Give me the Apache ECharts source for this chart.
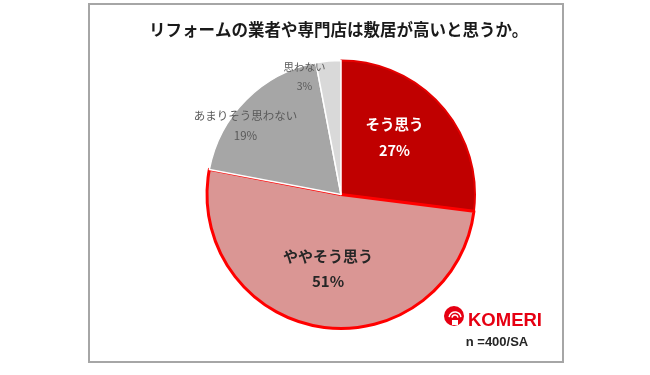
<!DOCTYPE html>
<html>
<head>
<meta charset="utf-8">
<script src="https://cdn.jsdelivr.net/npm/echarts@6/dist/echarts.min.js"></script>
<style>
html,body{margin:0;padding:0;background:#fff;}
#chart{width:650px;height:375px;}
</style>
</head>
<body>
<div id="chart"></div>
<script>
const titleText = 'リフォームの業者や専門店は敷居が高いと思うか。';
const categories = ['そう思う', 'ややそう思う', 'あまりそう思わない', '思わない'];
const values = [27, 51, 19, 3];
const noteText = 'n =400/SA';
const brandText = 'KOMERI';

const FONT = '"Noto Sans CJK JP", "Noto Sans", sans-serif';
const fills = ['#C00000', '#DA9694', '#A6A6A6', '#D9D9D9'];
const borders = ['#E60000', '#FF0000', '#FFFFFF', '#FFFFFF'];
const borderWidths = [2, 3, 1.5, 1.5];
const labelStyles = [
  {color: '#FFFFFF', fontSize: 14.5, fontWeight: 'bold', lineHeight: 26, offset: [1, -11]},
  {color: '#262626', fontSize: 15, fontWeight: 'bold', lineHeight: 25, offset: [-2, 5]},
  {color: '#595959', fontSize: 11.5, fontWeight: 'normal', lineHeight: 20, offset: [-46, -19]},
  {color: '#595959', fontSize: 10.5, fontWeight: 'normal', lineHeight: 19, offset: [-30, -48]}
];

const pieData = categories.map((name, i) => ({
  name: name,
  value: values[i],
  itemStyle: {color: fills[i], borderColor: borders[i], borderWidth: borderWidths[i]},
  label: {
    color: labelStyles[i].color,
    fontSize: labelStyles[i].fontSize,
    fontWeight: labelStyles[i].fontWeight,
    lineHeight: labelStyles[i].lineHeight,
    offset: labelStyles[i].offset
  }
}));

const chart = echarts.init(document.getElementById('chart'), null, {renderer: 'canvas'});
chart.setOption({
  animation: false,
  backgroundColor: '#FFFFFF',
  title: {
    text: titleText,
    left: 144,
    top: 16,
    textStyle: {fontFamily: FONT, fontSize: 16.5, fontWeight: 'bold', color: '#1A1A1A'}
  },
  graphic: [
    {type: 'rect', shape: {x: 89, y: 4, width: 474, height: 358}, style: {fill: 'none', stroke: '#A6A6A6', lineWidth: 2}, z: 0},
    // logo mark
    {type: 'circle', shape: {cx: 454, cy: 316, r: 10}, style: {fill: '#E60012'}, z: 10},
    {type: 'arc', shape: {cx: 455, cy: 318, r: 6, startAngle: Math.PI * 1.05, endAngle: Math.PI * 1.95}, style: {stroke: '#FFFFFF', lineWidth: 1.5, fill: 'none'}, z: 11},
    {type: 'arc', shape: {cx: 455, cy: 318, r: 3, startAngle: Math.PI * 1.05, endAngle: Math.PI * 1.95}, style: {stroke: '#FFFFFF', lineWidth: 1.5, fill: 'none'}, z: 11},
    {type: 'rect', shape: {x: 452, y: 320, width: 6, height: 5}, style: {fill: '#FFFFFF'}, z: 11},
    {type: 'text', x: 468, y: 321, style: {text: brandText, fill: '#E60012', font: 'bold 18.5px "Liberation Sans", Arial, sans-serif', textVerticalAlign: 'middle', textAlign: 'left'}, z: 10},
    {type: 'text', x: 497, y: 342, style: {text: noteText, fill: '#262626', font: 'bold 13px "Liberation Sans", "DejaVu Sans", sans-serif', textVerticalAlign: 'middle', textAlign: 'center'}, z: 10}
  ],
  series: [{
    type: 'pie',
    center: [341, 194.5],
    radius: [0, 134],
    startAngle: 90,
    clockwise: true,
    avoidLabelOverlap: false,
    label: {
      show: true,
      position: 'inside',
      formatter: '{b}\n{c}%',
      fontFamily: FONT,
      align: 'center'
    },
    labelLine: {show: false},
    emphasis: {disabled: true},
    data: pieData
  }]
});
</script>
</body>
</html>
